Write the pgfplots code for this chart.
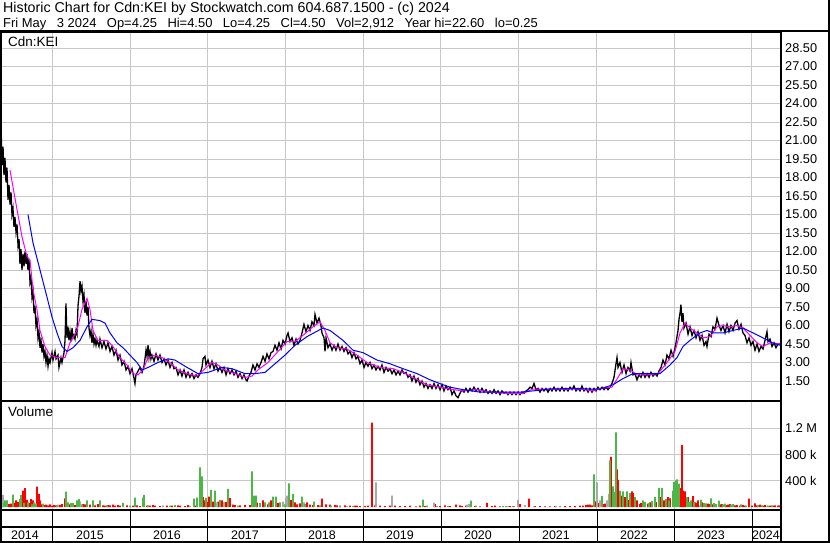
\documentclass[border=0pt]{standalone}
\usepackage{pgfplots}
\pgfplotsset{compat=1.18}
\usepackage{fontspec}
\setmainfont{Liberation Sans}
\definecolor{gridgray}{RGB}{200,200,200}
\definecolor{volgreen}{RGB}{76,182,73}
\definecolor{volgray}{RGB}{168,168,168}
\definecolor{volred}{RGB}{255,0,0}
\definecolor{mamag}{RGB}{255,0,255}
\definecolor{mablue}{RGB}{0,0,255}
\newcommand{\tfont}{\fontsize{12.8}{14}\selectfont}
\newcommand{\gap}{\hspace{10.5bp}}
\begin{document}
\begin{tikzpicture}
\useasboundingbox (0bp,0bp) rectangle (830bp,-543bp);
\begin{scope}[x=1bp,y=1bp]
\node[anchor=base west,inner sep=0pt,font=\fontsize{14.3}{16}\selectfont] at (3,-12.5) {Historic Chart for Cdn:KEI by Stockwatch.com 604.687.1500 - (c) 2024};
\node[anchor=base west,inner sep=0pt,font=\fontsize{13}{15}\selectfont] at (3,-27) {Fri May\gap 3 2024\gap Op=4.25\gap Hi=4.50\gap Lo=4.25\gap Cl=4.50\gap Vol=2,912\gap Year hi=22.60\gap lo=0.25};
\end{scope}
% price panel
\begin{axis}[
  at={(0bp,-32bp)}, anchor=north west, scale only axis,
  width=781bp, height=369bp,
  xmin=2014.326, xmax=2024.3775, ymin=-0.12, ymax=29.8,
  axis line style={line width=2bp},
  xtick={2015,2016,2017,2018,2019,2020,2021,2022,2023,2024}, xticklabels={},
  ytick={1.5,3,4.5,6,7.5,9,10.5,12,13.5,15,16.5,18,19.5,21,22.5,24,25.5,27,28.5},
  yticklabel={\pgfmathprintnumber[fixed,fixed zerofill,precision=2]{\tick}},
  /pgf/number format/assume math mode=true,
  yticklabel pos=right,
  yticklabel style={anchor=west,inner sep=0pt,xshift=4bp,font=\tfont},
  major tick length=0pt,
  grid=major, grid style={gridgray,line width=0.9bp},
]
\addplot[black,line width=1.3bp] coordinates {
(2014.326,21.5) (2014.339,22.3) (2014.352,19.0) (2014.365,20.5) (2014.377,18.2) (2014.390,19.6) (2014.403,17.6) (2014.416,18.8) (2014.429,16.2) (2014.442,17.4)
(2014.455,15.8) (2014.468,16.8) (2014.480,15.0) (2014.493,15.5) (2014.506,14.0) (2014.519,14.8) (2014.532,13.6) (2014.545,14.2) (2014.558,12.5) (2014.571,13.0)
(2014.583,11.0) (2014.596,12.2) (2014.609,10.5) (2014.622,11.8) (2014.635,10.8) (2014.648,12.0) (2014.661,11.0) (2014.673,11.8) (2014.686,10.5) (2014.699,11.4)
(2014.712,9.5) (2014.725,9.9) (2014.738,8.3) (2014.751,8.8) (2014.764,7.0) (2014.776,7.6) (2014.789,6.0) (2014.802,6.5) (2014.815,5.0) (2014.828,5.5)
(2014.841,4.2) (2014.854,4.8) (2014.867,3.8) (2014.879,4.5) (2014.892,3.5) (2014.905,3.9) (2014.918,3.0) (2014.931,3.6) (2014.944,2.7) (2014.957,3.3)
(2014.970,3.0) (2014.995,3.8) (2015.008,3.2) (2015.034,3.9) (2015.047,3.3) (2015.072,3.6) (2015.085,2.6) (2015.111,3.4) (2015.124,3.0) (2015.150,3.8)
(2015.163,4.8) (2015.175,7.8) (2015.188,5.0) (2015.201,5.9) (2015.214,4.8) (2015.227,5.5) (2015.240,4.7) (2015.253,5.8) (2015.266,5.0) (2015.278,5.2)
(2015.291,4.9) (2015.304,5.6) (2015.317,5.3) (2015.330,7.6) (2015.343,8.4) (2015.356,9.6) (2015.368,8.8) (2015.381,9.2) (2015.394,8.0) (2015.407,8.5)
(2015.420,7.0) (2015.433,8.0) (2015.446,6.8) (2015.459,7.5) (2015.471,5.8) (2015.484,5.2) (2015.497,5.6) (2015.510,4.6) (2015.523,5.3) (2015.536,4.5)
(2015.549,4.9) (2015.562,4.4) (2015.574,4.8) (2015.600,4.3) (2015.613,4.9) (2015.639,4.2) (2015.664,4.7) (2015.690,4.1) (2015.716,4.6) (2015.742,3.9)
(2015.767,4.3) (2015.793,3.6) (2015.819,4.0) (2015.845,3.2) (2015.870,3.6) (2015.896,2.8) (2015.922,3.1) (2015.948,2.4) (2015.973,2.7) (2015.999,2.1)
(2016.025,2.5) (2016.051,1.7) (2016.063,1.3) (2016.076,2.0) (2016.102,2.3) (2016.128,2.6) (2016.154,2.2) (2016.179,2.7) (2016.192,3.3) (2016.205,4.0)
(2016.218,3.5) (2016.231,4.4) (2016.244,3.4) (2016.257,3.9) (2016.269,3.3) (2016.282,3.6) (2016.308,3.1) (2016.334,3.7) (2016.359,3.2) (2016.385,3.6)
(2016.411,3.0) (2016.437,3.3) (2016.462,2.8) (2016.488,3.2) (2016.514,2.6) (2016.540,3.0) (2016.565,2.5) (2016.591,2.6) (2016.617,2.0) (2016.643,2.4)
(2016.668,1.9) (2016.694,2.4) (2016.720,1.8) (2016.746,2.2) (2016.771,1.8) (2016.797,2.1) (2016.823,1.7) (2016.849,2.0) (2016.874,1.8) (2016.900,2.1)
(2016.926,2.6) (2016.939,3.3) (2016.964,3.5) (2016.977,2.8) (2017.003,3.2) (2017.029,2.6) (2017.054,3.1) (2017.080,2.5) (2017.106,2.9) (2017.132,2.3)
(2017.157,2.6) (2017.183,2.2) (2017.209,2.6) (2017.235,2.0) (2017.260,2.5) (2017.286,2.1) (2017.312,2.4) (2017.338,2.0) (2017.363,2.3) (2017.389,1.8)
(2017.415,2.1) (2017.441,1.7) (2017.466,2.0) (2017.492,1.6) (2017.505,1.5) (2017.531,1.9) (2017.556,2.2) (2017.582,2.8) (2017.608,2.4) (2017.634,2.9)
(2017.659,2.6) (2017.685,3.0) (2017.711,3.5) (2017.737,3.1) (2017.762,3.7) (2017.788,3.3) (2017.814,3.8) (2017.840,3.9) (2017.865,4.4) (2017.891,4.0)
(2017.917,4.6) (2017.943,4.1) (2017.968,4.8) (2017.994,4.5) (2018.020,5.2) (2018.033,5.4) (2018.058,4.7) (2018.084,5.0) (2018.110,4.4) (2018.136,4.9)
(2018.161,4.5) (2018.187,4.8) (2018.213,5.4) (2018.238,6.1) (2018.264,5.5) (2018.290,6.0) (2018.316,5.6) (2018.341,6.3) (2018.367,6.0) (2018.380,6.9)
(2018.406,6.2) (2018.432,6.6) (2018.457,6.0) (2018.470,5.4) (2018.496,5.0) (2018.509,3.9) (2018.522,5.0) (2018.547,4.2) (2018.573,4.5) (2018.599,4.0)
(2018.625,4.4) (2018.650,4.0) (2018.676,4.5) (2018.702,4.0) (2018.728,4.3) (2018.753,3.9) (2018.779,4.2) (2018.805,3.7) (2018.831,3.9) (2018.856,3.4)
(2018.882,3.8) (2018.908,3.3) (2018.933,3.5) (2018.959,2.9) (2018.985,3.2) (2019.011,2.6) (2019.036,3.0) (2019.062,2.7) (2019.088,3.0) (2019.114,2.5)
(2019.139,2.8) (2019.165,2.4) (2019.191,2.7) (2019.217,2.4) (2019.242,2.8) (2019.268,2.2) (2019.294,2.6) (2019.320,2.3) (2019.345,2.5) (2019.371,2.1)
(2019.397,2.4) (2019.423,2.0) (2019.448,2.3) (2019.474,2.0) (2019.500,2.4) (2019.526,2.1) (2019.551,2.2) (2019.577,1.8) (2019.603,2.0) (2019.628,1.5)
(2019.654,1.9) (2019.680,1.4) (2019.706,1.7) (2019.731,1.2) (2019.757,1.5) (2019.783,1.0) (2019.809,1.3) (2019.834,0.9) (2019.860,1.2) (2019.886,0.9)
(2019.912,1.3) (2019.937,0.9) (2019.963,1.2) (2019.989,0.8) (2020.015,1.2) (2020.040,0.7) (2020.066,1.1) (2020.092,0.8) (2020.118,1.0) (2020.143,0.4)
(2020.169,0.7) (2020.195,0.3) (2020.220,0.15) (2020.246,0.5) (2020.272,0.8) (2020.298,0.6) (2020.323,0.9) (2020.349,0.6) (2020.375,0.9) (2020.401,0.7)
(2020.426,1.0) (2020.452,0.7) (2020.478,0.9) (2020.504,0.6) (2020.529,0.9) (2020.555,0.6) (2020.581,0.8) (2020.607,0.5) (2020.632,0.7) (2020.658,0.5)
(2020.684,0.8) (2020.710,0.5) (2020.735,0.7) (2020.761,0.4) (2020.787,0.7) (2020.813,0.5) (2020.838,0.6) (2020.864,0.4) (2020.890,0.6) (2020.915,0.4)
(2020.941,0.6) (2020.967,0.4) (2020.993,0.6) (2021.018,0.4) (2021.044,0.6) (2021.070,0.5) (2021.096,0.7) (2021.121,0.8) (2021.147,1.0) (2021.173,0.9)
(2021.199,1.3) (2021.224,0.8) (2021.250,0.9) (2021.276,0.6) (2021.302,0.9) (2021.327,0.7) (2021.353,0.9) (2021.379,0.6) (2021.405,0.9) (2021.430,0.7)
(2021.456,1.0) (2021.482,0.7) (2021.507,0.9) (2021.533,0.7) (2021.559,1.0) (2021.585,0.7) (2021.610,0.9) (2021.636,0.7) (2021.662,1.0) (2021.688,0.8)
(2021.713,1.1) (2021.739,0.7) (2021.765,0.9) (2021.791,0.7) (2021.816,1.1) (2021.842,0.7) (2021.868,0.9) (2021.894,0.6) (2021.919,0.9) (2021.945,0.6)
(2021.971,0.9) (2021.997,0.7) (2022.022,1.0) (2022.048,0.8) (2022.074,1.0) (2022.100,0.8) (2022.125,1.0) (2022.151,0.8) (2022.177,1.0) (2022.202,1.3)
(2022.228,1.8) (2022.254,2.9) (2022.267,3.4) (2022.280,2.6) (2022.305,3.0) (2022.331,2.2) (2022.357,2.8) (2022.383,2.1) (2022.408,2.6) (2022.434,2.3)
(2022.447,3.0) (2022.473,2.0) (2022.498,2.1) (2022.524,1.6) (2022.550,2.0) (2022.576,1.8) (2022.601,2.2) (2022.627,1.8) (2022.653,2.1) (2022.679,1.8)
(2022.704,2.2) (2022.730,1.9) (2022.756,2.1) (2022.782,1.9) (2022.807,2.3) (2022.833,2.6) (2022.859,3.2) (2022.885,2.8) (2022.910,3.6) (2022.936,3.3)
(2022.962,4.0) (2022.988,3.5) (2023.013,4.2) (2023.026,4.6) (2023.052,5.6) (2023.065,6.5) (2023.078,7.0) (2023.090,7.7) (2023.103,6.3) (2023.116,7.0)
(2023.129,5.8) (2023.155,6.2) (2023.181,5.3) (2023.206,5.9) (2023.232,5.2) (2023.258,5.6) (2023.284,5.0) (2023.309,5.5) (2023.335,4.8) (2023.361,5.2)
(2023.387,4.4) (2023.412,4.7) (2023.425,4.3) (2023.451,5.3) (2023.477,5.1) (2023.502,5.9) (2023.528,5.7) (2023.554,6.6) (2023.580,6.0) (2023.605,5.6)
(2023.631,6.0) (2023.657,5.4) (2023.683,6.1) (2023.708,5.5) (2023.734,6.0) (2023.760,5.6) (2023.786,6.2) (2023.811,6.4) (2023.837,5.7) (2023.863,6.1)
(2023.888,5.4) (2023.914,5.2) (2023.940,4.6) (2023.966,5.0) (2023.991,4.4) (2024.017,4.7) (2024.043,4.0) (2024.069,4.5) (2024.094,3.9) (2024.120,4.3)
(2024.146,4.1) (2024.172,4.8) (2024.197,5.5) (2024.210,4.7) (2024.236,4.9) (2024.262,4.3) (2024.288,4.6) (2024.313,4.2) (2024.339,4.5) (2024.365,4.5)
};
\addplot[mamag,line width=1bp] coordinates {
(2014.455,18.6) (2014.545,15.4) (2014.609,13.2) (2014.673,11.6) (2014.712,11.3) (2014.751,8.9) (2014.802,7.3) (2014.841,5.6) (2014.905,4.3) (2014.970,3.6)
(2015.060,3.4) (2015.163,3.4) (2015.227,4.6) (2015.317,5.6) (2015.381,7.3) (2015.446,8.2) (2015.484,7.3) (2015.523,5.6) (2015.587,4.8) (2015.703,4.8)
(2015.780,4.3) (2015.870,3.4) (2015.960,2.8) (2016.038,2.1) (2016.102,2.0) (2016.166,2.4) (2016.231,3.4) (2016.321,3.6) (2016.411,3.4) (2016.514,3.0)
(2016.617,2.4) (2016.733,2.1) (2016.861,1.9) (2016.964,2.5) (2017.054,3.0) (2017.132,2.8) (2017.222,2.4) (2017.350,2.1) (2017.479,1.8) (2017.569,1.9)
(2017.646,2.4) (2017.775,3.0) (2017.904,3.9) (2018.020,4.7) (2018.123,4.7) (2018.226,5.2) (2018.354,5.9) (2018.444,6.3) (2018.509,5.6) (2018.573,4.6)
(2018.663,4.2) (2018.792,4.1) (2018.921,3.6) (2019.049,3.0) (2019.217,2.6) (2019.384,2.5) (2019.513,2.2) (2019.641,1.8) (2019.821,1.2) (2019.989,1.0)
(2020.156,0.8) (2020.285,0.7) (2020.465,0.8) (2020.632,0.6) (2020.851,0.5) (2021.057,0.5) (2021.186,0.85) (2021.366,0.85) (2021.572,0.85) (2021.791,0.85)
(2021.958,0.7) (2022.048,0.9) (2022.202,1.0) (2022.280,1.8) (2022.344,2.5) (2022.434,2.4) (2022.524,2.0) (2022.653,2.0) (2022.795,2.1) (2022.910,3.0)
(2023.013,3.9) (2023.078,5.4) (2023.142,6.2) (2023.206,5.8) (2023.296,5.4) (2023.374,5.0) (2023.464,5.1) (2023.554,5.9) (2023.631,6.0) (2023.721,5.9)
(2023.811,6.0) (2023.888,5.8) (2023.979,5.2) (2024.069,4.6) (2024.146,4.3) (2024.236,4.6) (2024.365,4.5)
};
\addplot[mablue,line width=1bp] coordinates {
(2014.686,15.0) (2014.751,12.7) (2014.841,10.5) (2014.931,8.3) (2014.995,6.7) (2015.060,5.4) (2015.124,4.3) (2015.188,3.9) (2015.266,4.2) (2015.356,4.8)
(2015.446,5.9) (2015.510,6.5) (2015.613,6.4) (2015.677,6.2) (2015.742,5.4) (2015.832,4.6) (2015.909,4.2) (2015.999,3.6) (2016.089,3.0) (2016.154,2.4)
(2016.231,2.6) (2016.359,3.0) (2016.488,3.3) (2016.578,3.2) (2016.707,2.7) (2016.874,2.1) (2017.003,2.2) (2017.183,2.6) (2017.312,2.5) (2017.479,2.1)
(2017.608,2.1) (2017.737,2.2) (2017.865,2.9) (2017.994,3.6) (2018.123,4.4) (2018.277,5.1) (2018.483,5.8) (2018.573,5.6) (2018.740,4.8) (2018.869,4.0)
(2018.998,3.8) (2019.178,3.2) (2019.345,2.9) (2019.513,2.5) (2019.693,2.1) (2019.860,1.6) (2020.027,1.2) (2020.118,1.0) (2020.285,0.8) (2020.504,0.6)
(2020.761,0.6) (2021.018,0.6) (2021.186,0.7) (2021.405,0.85) (2021.701,0.9) (2021.919,0.85) (2022.048,0.85) (2022.215,1.2) (2022.344,1.7) (2022.473,2.1)
(2022.692,2.1) (2022.820,2.1) (2022.949,2.8) (2023.039,3.4) (2023.116,4.3) (2023.206,4.8) (2023.335,5.4) (2023.425,5.6) (2023.502,5.4) (2023.631,5.4)
(2023.760,5.6) (2023.888,5.8) (2024.017,5.4) (2024.146,5.0) (2024.262,4.6) (2024.365,4.4)
};
\end{axis}
% volume panel
\begin{axis}[
  at={(0bp,-401bp)}, anchor=north west, scale only axis,
  width=781bp, height=109bp,
  xmin=2014.326, xmax=2024.3775, ymin=-45800, ymax=1618000,
  axis line style={line width=2bp},
  xtick={2015,2016,2017,2018,2019,2020,2021,2022,2023,2024}, xticklabels={},
  ytick={400000,800000,1200000}, yticklabels={400 k,800 k,1.2 M},
  scaled y ticks=false,
  yticklabel pos=right,
  yticklabel style={anchor=west,inner sep=0pt,xshift=4bp,font=\tfont},
  major tick length=0pt,
  grid=major, grid style={gridgray,line width=0.9bp},
]
\addplot[ybar,bar width=1.8bp,bar shift=0pt,fill=volred,draw=none] coordinates {
(2014.442,45000) (2014.532,100000) (2014.558,80000) (2014.622,250000) (2014.648,290000) (2014.673,110000) (2014.725,120000) (2014.751,100000) (2014.802,310000) (2014.828,200000)
(2014.841,100000) (2014.867,40000) (2014.905,30000) (2014.944,25000) (2014.995,20000) (2015.047,25000) (2015.098,30000) (2015.163,133000) (2015.227,40000) (2015.291,30000)
(2015.395,45000) (2015.484,35000) (2015.549,25000) (2015.652,25000) (2015.677,20000) (2015.716,30000) (2015.742,25000) (2015.806,20000) (2015.870,20000) (2015.960,25000)
(2016.038,20000) (2016.128,15000) (2016.218,20000) (2016.257,20000) (2016.321,20000) (2016.385,15000) (2016.475,20000) (2016.540,20000) (2016.643,20000) (2016.707,15000)
(2016.835,20000) (2016.939,150000) (2016.964,100000) (2016.990,80000) (2017.016,160000) (2017.068,82000) (2017.132,82000) (2017.183,100000) (2017.235,77000) (2017.286,140000)
(2017.350,30000) (2017.415,25000) (2017.479,30000) (2017.634,67000) (2017.711,100000) (2017.775,40000) (2017.814,100000) (2017.904,62000) (2018.071,108000) (2018.123,72000)
(2018.187,56000) (2018.277,72000) (2018.354,30000) (2018.470,128000) (2018.522,40000) (2018.573,35000) (2018.637,30000) (2018.702,20000) (2018.766,25000) (2018.831,20000)
(2018.895,20000) (2018.959,15000) (2019.023,15000) (2019.062,20000) (2019.114,1288000) (2019.217,20000) (2019.281,15000) (2019.345,20000) (2019.409,20000) (2019.474,15000)
(2019.538,15000) (2019.603,20000) (2019.680,10000) (2019.795,15000) (2019.924,45000) (2019.989,15000) (2020.118,15000) (2020.195,35000) (2020.272,15000) (2020.323,20000)
(2020.439,15000) (2020.504,10000) (2020.594,62000) (2020.658,15000) (2020.761,10000) (2020.890,15000) (2020.929,10000) (2021.018,45000) (2021.134,128000) (2021.211,15000)
(2021.340,10000) (2021.405,10000) (2021.469,12000) (2021.598,12000) (2021.726,15000) (2021.791,20000) (2021.830,20000) (2021.868,30000) (2021.894,35000) (2021.919,35000)
(2021.997,85000) (2022.035,60000) (2022.087,45000) (2022.112,50000) (2022.190,765000) (2022.267,575000) (2022.280,416000) (2022.331,175000) (2022.369,150000) (2022.421,105000)
(2022.460,240000) (2022.473,210000) (2022.524,100000) (2022.563,45000) (2022.627,45000) (2022.666,50000) (2022.718,50000) (2022.769,75000) (2022.833,150000) (2022.872,100000)
(2022.923,150000) (2022.949,130000) (2023.078,290000) (2023.103,945000) (2023.116,250000) (2023.142,240000) (2023.181,150000) (2023.245,165000) (2023.271,70000) (2023.309,100000)
(2023.361,70000) (2023.412,45000) (2023.464,45000) (2023.541,20000) (2023.618,45000) (2023.670,30000) (2023.721,45000) (2023.785,25000) (2023.850,20000) (2023.914,20000)
(2023.966,128000) (2024.004,20000) (2024.043,56000) (2024.107,35000) (2024.172,30000) (2024.236,20000) (2024.300,25000) (2024.339,20000)
(2014.352,40000) (2014.468,50000) (2014.506,60000) (2014.699,60000) (2014.918,35000) (2014.970,40000) (2015.021,30000) (2015.124,45000) (2015.420,40000) (2015.587,45000)
(2015.780,35000) (2015.845,30000) (2016.089,25000) (2016.295,30000) (2016.617,25000) (2016.746,30000) (2017.325,35000) (2017.544,30000) (2018.149,40000) (2018.316,35000)
(2018.418,30000) (2018.663,25000) (2018.921,20000) (2019.152,25000) (2019.731,20000) (2020.053,25000) (2020.246,25000) (2020.375,20000) (2020.697,20000) (2021.276,15000)
(2021.662,15000) (2021.945,25000) (2022.576,60000) (2022.692,70000) (2023.296,60000) (2023.438,50000) (2023.502,40000) (2023.592,40000) (2023.695,35000) (2023.811,30000)
(2023.888,30000) (2024.069,25000) (2024.146,20000) (2024.275,20000) (2024.352,25000)
};
\addplot[ybar,bar width=1.8bp,bar shift=0pt,fill=volgray,draw=none] coordinates {
(2014.365,185000) (2015.072,35000) (2015.356,87000) (2016.424,25000) (2016.771,20000) (2017.119,72000) (2017.209,77000) (2017.968,82000) (2018.007,138000) (2018.020,175000)
(2018.238,72000) (2018.792,15000) (2019.165,375000) (2019.371,175000) (2019.912,67000) (2020.336,35000) (2020.362,45000) (2020.864,15000) (2020.993,108000) (2021.083,30000)
(2021.482,16000) (2022.010,375000) (2022.048,100000) (2022.138,100000) (2022.164,200000) (2023.335,25000) (2024.197,20000)
};
\addplot[ybar,bar width=1.8bp,bar shift=0pt,fill=volgreen,draw=none] coordinates {
(2014.390,100000) (2014.416,100000) (2014.493,190000) (2014.583,120000) (2014.596,185000) (2014.686,70000) (2014.764,70000) (2014.789,50000) (2014.879,50000) (2015.175,235000)
(2015.201,70000) (2015.240,60000) (2015.266,60000) (2015.317,100000) (2015.343,120000) (2015.446,100000) (2015.523,100000) (2015.613,100000) (2015.909,62000) (2016.063,145000)
(2016.166,144000) (2016.179,185000) (2016.578,30000) (2016.823,128000) (2016.861,143000) (2016.900,605000) (2016.926,467000) (2016.977,138000) (2017.042,262000) (2017.093,250000)
(2017.157,108000) (2017.260,277000) (2017.569,544000) (2017.595,175000) (2017.621,175000) (2017.737,72000) (2017.788,72000) (2017.840,160000) (2017.878,160000) (2017.930,72000)
(2018.045,360000) (2018.097,200000) (2018.213,160000) (2018.367,82000) (2018.586,20000) (2018.869,15000) (2019.770,113000) (2019.821,20000) (2019.950,15000) (2020.092,15000)
(2020.388,97000) (2020.452,20000) (2020.800,15000) (2020.838,15000) (2020.941,15000) (2021.199,10000) (2021.533,15000) (2021.971,497000) (2022.074,170000) (2022.177,713000)
(2022.215,313000) (2022.228,230000) (2022.254,1139000) (2022.305,250000) (2022.344,240000) (2022.395,240000) (2022.434,210000) (2022.498,150000) (2022.601,100000) (2022.679,60000)
(2022.756,150000) (2022.807,292000) (2022.846,292000) (2022.898,120000) (2022.988,250000) (2023.001,380000) (2023.026,405000) (2023.039,420000) (2023.065,355000) (2023.168,150000)
(2023.219,100000) (2023.348,113000) (2023.387,60000) (2023.477,133000) (2023.515,60000) (2023.580,97000) (2023.657,50000) (2023.760,45000) (2023.863,40000) (2024.081,30000)
(2024.133,25000) (2024.262,25000)
(2014.377,60000) (2014.635,60000) (2014.738,40000) (2015.060,20000) (2015.381,40000) (2015.703,25000) (2015.999,20000) (2016.231,25000) (2016.514,20000) (2017.389,20000)
(2017.672,60000) (2017.994,40000) (2018.251,45000) (2018.444,25000) (2018.702,15000) (2022.627,80000) (2022.718,90000) (2022.936,100000) (2023.194,80000) (2023.258,70000)
(2023.412,55000) (2023.541,45000) (2023.631,40000) (2023.734,35000) (2023.927,20000) (2024.210,20000)
};
\end{axis}
\begin{scope}[x=1bp,y=1bp]
\node[anchor=west,inner sep=0pt,font=\fontsize{13.5}{15}\selectfont] at (8,-42) {Cdn:KEI};
\node[anchor=west,inner sep=0pt,font=\fontsize{13.5}{15}\selectfont] at (8,-412) {Volume};
\draw[line width=2.3bp] (0,-31.2) -- (830,-31.2);
\draw[line width=2bp] (829,0) -- (829,-543);
\draw[line width=2bp] (0,-542) -- (830,-542);
\draw[line width=2bp] (1,-31) -- (1,-543);
\draw[line width=2bp] (781,-31) -- (781,-543);
\draw[line width=2bp] (0,-527) -- (781,-527);
\foreach \x in {52.4,130,207.4,285,363.5,441,519,597,674,752}
  \draw[line width=0.9bp] (\x,-510) -- (\x,-542);
\foreach \x/\y in {25/2014,90/2015,167/2016,245/2017,322/2018,400/2019,478/2020,556/2021,634/2022,711/2023,766/2024}
  \node[font=\fontsize{12.5}{14}\selectfont,inner sep=0pt] at (\x,-535) {\y};
\end{scope}
\end{tikzpicture}
\end{document}
